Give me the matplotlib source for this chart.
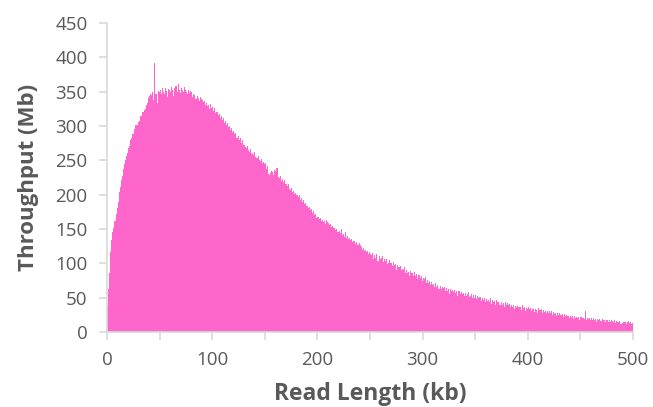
import numpy as np
import matplotlib.pyplot as plt

plt.rcParams["font.family"] = ["Open Sans", "DejaVu Sans"]

# throughput (Mb) per 1 kb read-length bin, 0-500 kb
throughput = [
    40, 62, 86, 116, 134, 146, 151, 161, 172, 181,
    190, 204, 211, 222, 227, 237, 245, 250, 257, 261,
    268, 271, 280, 282, 288, 289, 296, 301, 302, 306,
    308, 314, 315, 320, 320, 324, 325, 330, 333, 341,
    344, 347, 345, 350, 338, 392, 346, 334, 351, 349,
    353, 347, 355, 350, 346, 356, 351, 342, 354, 352,
    349, 357, 353, 344, 355, 358, 350, 361, 352, 348,
    356, 353, 349, 357, 352, 350, 346, 353, 348, 351,
    350, 343, 347, 345, 339, 344, 341, 336, 342, 340,
    338, 335, 337, 331, 334, 329, 330, 325, 332, 327,
    328, 322, 326, 319, 321, 316, 318, 312, 315, 309,
    311, 305, 308, 302, 304, 298, 300, 294, 297, 291,
    293, 288, 290, 283, 286, 280, 282, 276, 279, 272,
    273, 270, 268, 271, 265, 262, 266, 259, 261, 258,
    262, 255, 253, 257, 250, 249, 252, 246, 248, 244,
    246, 238, 242, 230, 228, 231, 235, 233, 229, 236,
    234, 239, 226, 224, 227, 220, 223, 218, 221, 215,
    216, 212, 215, 209, 207, 210, 204, 206, 201, 203,
    200, 197, 199, 193, 195, 190, 192, 186, 188, 184,
    183, 180, 182, 177, 179, 174, 176, 170, 172, 166,
    167, 164, 166, 162, 163, 160, 161, 158, 163, 160,
    159, 156, 157, 153, 155, 151, 152, 148, 150, 146,
    147, 144, 150, 141, 143, 139, 145, 137, 140, 135,
    137, 134, 135, 131, 133, 132, 128, 131, 127, 129,
    127, 124, 120, 122, 118, 119, 116, 118, 114, 117,
    114, 112, 115, 106, 112, 108, 113, 104, 111, 107,
    108, 110, 102, 107, 103, 106, 99, 101, 105, 100,
    101, 96, 102, 97, 99, 91, 98, 94, 96, 90,
    92, 90, 94, 86, 91, 86, 88, 82, 89, 86,
    86, 81, 87, 82, 85, 77, 83, 79, 82, 75,
    78, 77, 80, 71, 76, 72, 75, 68, 73, 69,
    70, 66, 71, 66, 68, 62, 67, 63, 66, 64,
    65, 60, 64, 60, 63, 56, 62, 60, 61, 58,
    61, 57, 60, 53, 59, 55, 58, 56, 57, 52,
    57, 53, 56, 58, 51, 52, 55, 49, 54, 50,
    54, 48, 52, 49, 51, 45, 50, 47, 49, 44,
    48, 45, 47, 44, 49, 41, 46, 44, 45, 40,
    46, 43, 44, 39, 43, 40, 42, 37, 43, 39,
    42, 39, 41, 36, 40, 37, 39, 34, 38, 36,
    38, 36, 37, 32, 39, 35, 36, 31, 35, 34,
    36, 33, 35, 30, 34, 33, 29, 34, 32, 28,
    35, 32, 33, 28, 32, 29, 31, 27, 30, 28,
    31, 28, 30, 25, 29, 26, 28, 24, 27, 25,
    27, 25, 26, 22, 26, 23, 25, 24, 24, 21,
    24, 22, 23, 19, 23, 20, 22, 21, 22, 18,
    22, 20, 21, 19, 30, 17, 20, 19, 20, 18,
    20, 17, 20, 18, 19, 15, 19, 18, 19, 16,
    19, 17, 18, 15, 18, 17, 14, 18, 15, 17,
    16, 15, 17, 13, 16, 15, 14, 16, 12, 13,
    15, 14, 15, 12, 14, 16, 13, 14, 12, 13,
]
read_length = np.arange(len(throughput))

x_ticks = list(range(0, 501, 50))
x_labels = [str(t) if t % 100 == 0 else "" for t in x_ticks]
y_ticks = list(range(0, 451, 50))

grey = "#595959"
axis_grey = "#D9D9D9"

fig = plt.figure(figsize=(6.53, 4.07), dpi=100)
ax = fig.add_axes([0.164, 0.1843, 0.8055, 0.759])

ax.bar(read_length, throughput, width=1.0, align="edge", color="#FF66CC",
       edgecolor="none", linewidth=0)

ax.set_xlim(0, 500)
ax.set_ylim(0, 450)
ax.set_xticks(x_ticks)
ax.set_xticklabels(x_labels)
ax.set_yticks(y_ticks)

for s in ["top", "right"]:
    ax.spines[s].set_visible(False)
for s in ["left", "bottom"]:
    ax.spines[s].set_color(axis_grey)
    ax.spines[s].set_linewidth(1.2)

ax.tick_params(axis="both", colors=axis_grey, labelcolor=grey, labelsize=13.5,
               length=6, width=1.2, direction="out")
ax.tick_params(axis="x", pad=8)
ax.tick_params(axis="y", pad=8)

ax.set_xlabel("Read Length (kb)", fontsize=16.5, fontweight="bold", color=grey, labelpad=9)
ax.set_ylabel("Throughput (Mb)", fontsize=16, fontweight="bold", color=grey, labelpad=12)

fig.savefig("out.png", dpi=100)
